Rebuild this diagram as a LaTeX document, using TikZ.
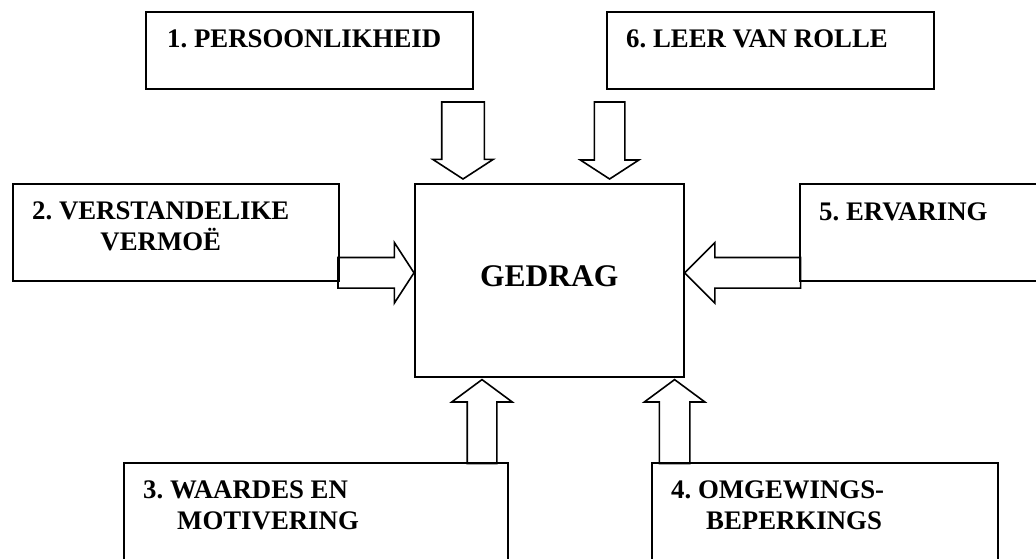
\documentclass[tikz,border=0pt]{standalone}
\usepackage{fontspec}
\setmainfont{Liberation Serif}
\usetikzlibrary{positioning,shapes.arrows}
\frenchspacing

\tikzset{
  box/.style={draw,rectangle,line width=1.6pt,inner sep=0pt,anchor=north west},
  lbl/.style={inner sep=0pt,font=\fontsize{26.8}{31}\selectfont\bfseries},
  blockarrow/.style={single arrow,draw,line width=1.6pt,inner sep=14.5pt,outer sep=0pt,
    single arrow head extend=15pt,single arrow tip angle=114,anchor=tip}
}

\begin{document}
\begin{tikzpicture}[x=1pt,y=-1pt]
  \useasboundingbox (0,0) rectangle (1036,558);
  \clip (0,0) rectangle (1036,558);

  % the six influences and the behaviour box
  \node[box,minimum width=269pt,minimum height=193pt,
        font=\fontsize{31.5}{36}\selectfont\bfseries,text depth=9pt] (ged) at (414,183) {GEDRAG};
  \node[box,minimum width=327pt,minimum height=77pt] (pers) at (145,11) {};
  \node[box,minimum width=327pt,minimum height=77pt] (rolle) at (606,11) {};
  \node[box,minimum width=326pt,minimum height=97pt] (verst) at (12,183) {};
  \node[box,minimum width=261pt,minimum height=97pt] (erv) at (799,183) {};
  \node[box,minimum width=384pt,minimum height=130pt] (waard) at (123,462) {};
  \node[box,minimum width=346pt,minimum height=130pt] (omgew) at (651,462) {};

  \node[lbl,below right=19pt and 22pt of pers.north west] (perstxt) {1. PERSOONLIKHEID};
  \node[lbl,below right=19pt and 20pt of rolle.north west] (rolletxt) {6. LEER VAN ROLLE};
  \node[lbl,align=center,below right=19pt and 20pt of verst.north west] (versttxt) {2. VERSTANDELIKE\\VERMOË};
  \node[lbl,below right=20pt and 20pt of erv.north west] (ervtxt) {5. ERVARING};
  \node[lbl,align=left,below right=19pt and 20pt of waard.north west] (waardtxt) {3. WAARDES EN\\\hspace*{34pt}MOTIVERING};
  \node[lbl,align=left,below right=19pt and 20pt of omgew.north west] (omgewtxt) {4. OMGEWINGS-\\\hspace*{35pt}BEPERKINGS};

  % block arrows into GEDRAG
  \node[blockarrow,shape border rotate=270,minimum height=77pt,inner sep=20.5pt,
        single arrow head extend=9pt] (a1) at ([xshift=49pt,yshift=4pt]ged.north west) {};
  \node[blockarrow,shape border rotate=270,minimum height=77pt,
        single arrow head extend=14pt] (a6) at ([xshift=-75pt,yshift=4pt]ged.north east) {};
  \node[blockarrow,minimum height=76pt] (a2) at ([yshift=7.5pt]ged.west) {};
  \node[blockarrow,shape border rotate=180,minimum height=116pt,
        single arrow tip angle=90] (a5) at ([yshift=7.5pt]ged.east) {};
  \node[blockarrow,shape border rotate=90,minimum height=84pt,inner sep=14pt,
        single arrow head extend=15.5pt,single arrow tip angle=107] (a3) at ([xshift=68pt,yshift=-2pt]ged.south west) {};
  \node[blockarrow,shape border rotate=90,minimum height=84pt,
        single arrow tip angle=107] (a4) at ([xshift=-10pt,yshift=-2pt]ged.south east) {};
\end{tikzpicture}
\end{document}
